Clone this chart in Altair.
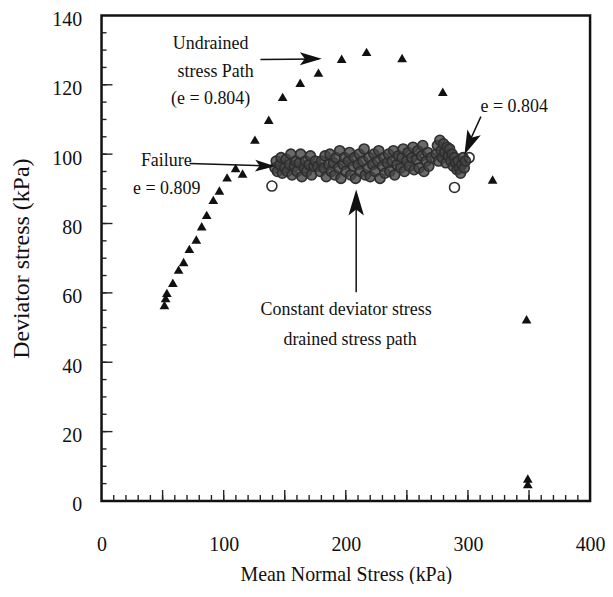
import altair as alt
import pandas as pd

# ---------------- data ----------------
undrained_x = [51.5, 52.5, 53.5, 58.4, 63.1, 67.2, 71.9, 77.6, 82.0, 86.1, 91.5, 96.5,
               102.8, 109.8, 115.5, 125.6, 136.9, 148.3, 162.7, 177.6, 196.6, 217.0,
               246.1, 279.4, 320.2, 348.0, 349.0, 349.0]
undrained_y = [56.5, 58.5, 60.0, 62.9, 66.7, 68.9, 72.7, 75.4, 79.2, 82.5, 86.8, 89.5,
               93.3, 96.0, 94.4, 104.2, 109.9, 116.5, 120.6, 123.5, 127.5, 129.5,
               127.7, 118.0, 92.7, 52.4, 6.5, 4.9]

drained_x = [142, 143, 144, 146, 147, 148, 150, 151, 152, 154, 155, 156, 158, 159, 160, 162, 163, 164,
             166, 167, 168, 170, 171, 172, 174, 175,
             177,
             179, 180, 182, 183, 184, 186, 187, 188, 190, 191, 192, 194, 195, 196, 198, 199, 200, 202,
             203, 204, 206, 207, 208, 210, 211, 212, 214, 215, 216, 218, 219, 220, 222, 223, 224, 226,
             227, 228, 230, 231, 232, 234, 235, 236, 238, 239, 240, 242, 243,
             245, 246, 247, 248, 250, 251, 252, 254, 255, 256, 258, 259, 260, 262, 263, 264, 266, 267,
             268, 270,
             274, 275, 276, 277, 278, 279, 280, 281, 282, 283, 284, 285, 286, 287, 288, 289, 290, 291,
             292, 293, 294, 295, 296, 297, 298]
drained_y = [96, 98, 95, 97, 99, 94.5, 96, 98.5, 95, 97, 100, 94, 96.5, 98, 95, 97.5, 100, 93.5,
             96, 98, 95, 97, 99.5, 94, 96.5, 98,
             96.5,
             95, 98, 96, 99.5, 93.5, 97, 100, 95, 97.5, 94, 99, 96, 101, 93, 97, 99, 95, 98,
             100.5, 94, 96.5, 99, 93, 97, 100, 95, 98, 101.5, 94, 96, 99, 93.5, 97, 100, 95, 98,
             101, 93, 96.5, 99, 94.5, 97.5, 100, 95, 98, 101, 94, 97, 99.5,
             96, 99, 101.5, 95, 98, 100.5, 96.5, 99, 102, 95.5, 98.5, 101, 96, 99.5, 102.5, 95, 98, 100.5,
             96.5, 99,
             100, 102.5, 98, 104, 101, 99, 103, 100.5, 97.5, 102, 99.5, 101.5, 98, 100, 96.5, 99, 97.5, 95.5,
             98, 96, 94.5, 97, 99, 96, 98]

open_x = [139.5, 289.0, 301.0]
open_y = [90.8, 90.4, 99.0]

ann_text = ["Undrained", "stress Path", "(e = 0.804)", "Failure", "e = 0.809",
            "e = 0.804", "Constant deviator stress", "drained stress path"]
ann_x = [89.3, 93.4, 89.3, 53.0, 53.4, 337.9, 200.3, 203.5]
ann_y = [131.8, 123.7, 116.0, 97.9, 90.0, 113.7, 55.0, 46.4]

shaft_x = [130.1, 72.0, 208.5, 310.6]
shaft_y = [127.3, 97.3, 60.2, 110.8]
shaft_x2 = [178.0, 138.0, 208.5, 298.5]
shaft_y2 = [127.4, 96.6, 86.0, 101.5]
head_x = [180.3, 142.0, 208.5, 297.1]
head_y = [127.5, 96.5, 89.8, 99.8]
head_angle = [90, 91.9, 0, 203.4]

x_ticks = [0, 100, 200, 300, 400]
y_ticks = [0, 20, 40, 60, 80, 100, 120, 140]

# ---------------- styles ----------------
FONT = "Liberation Serif"
INK = "#111111"
head_size = [484, 400, 676, 600]
HEAD_PATH = "M0,0L0.6,2L0,1.55L-0.6,2Z"
W, H = 491, 488

xs = alt.Scale(domain=[0, 400], nice=False, zero=False)
ys = alt.Scale(domain=[0, 140], nice=False, zero=False)

band = pd.DataFrame({"x": drained_x, "y": drained_y})
opn = pd.DataFrame({"x": open_x, "y": open_y})
und = pd.DataFrame({"x": undrained_x, "y": undrained_y})
ann = pd.DataFrame({"t": ann_text, "x": ann_x, "y": ann_y})
shafts = pd.DataFrame({"x": shaft_x, "y": shaft_y, "x2": shaft_x2, "y2": shaft_y2})
heads = pd.DataFrame({"x": head_x, "y": head_y, "a": head_angle, "s": head_size})

x_minor = pd.DataFrame({"x": list(range(10, 400, 10))})
x_major = pd.DataFrame({"x": list(range(50, 400, 50))})
y_minor = pd.DataFrame({"y": list(range(5, 140, 5))})
y_major = pd.DataFrame({"y": list(range(20, 140, 20))})

X_AX = alt.Axis(values=x_ticks, title="Mean Normal Stress (kPa)", ticks=False, domain=False,
                grid=False, labelPadding=34, labelFontSize=20, labelFont=FONT, labelColor=INK,
                labelFlush=False, labelOverlap=False, titleFont=FONT, titleFontSize=20,
                titleFontWeight="normal", titleColor=INK, titlePadding=10)
Y_AX = alt.Axis(values=y_ticks, title="Deviator stress (kPa)", ticks=False, domain=False,
                grid=False, labelPadding=20, labelOffset=4, labelFontSize=20, labelFont=FONT,
                labelColor=INK, labelFlush=False, labelOverlap=False, titleFont=FONT,
                titleFontSize=24, titleFontWeight="normal", titleColor=INK, titlePadding=18)


def xq():
    return alt.X("x:Q", scale=xs, axis=X_AX)


def yq():
    return alt.Y("y:Q", scale=ys, axis=Y_AX)


band_layer = alt.Chart(band).mark_point(shape="circle", size=100, filled=False, stroke="#2e2e2e",
                                        strokeWidth=1.6, fill="#454545", fillOpacity=0.8,
                                        opacity=1).encode(x=xq(), y=yq())
open_layer = alt.Chart(opn).mark_point(shape="circle", size=100, filled=False, stroke="#2e2e2e",
                                       strokeWidth=1.6, opacity=1).encode(x=xq(), y=yq())
und_layer = alt.Chart(und).mark_point(shape="triangle-up", size=95, filled=True, color="#111",
                                      opacity=1).encode(x=xq(), y=yq())
shaft_layer = alt.Chart(shafts).mark_rule(color=INK, strokeWidth=1.5).encode(
    x=xq(), y=yq(), x2="x2:Q", y2="y2:Q")
head_layer = alt.Chart(heads).mark_point(shape=HEAD_PATH, filled=True, color=INK, opacity=1).encode(
    x=xq(), y=yq(), angle=alt.Angle("a:Q", scale=None), size=alt.Size("s:Q", scale=None, legend=None))
text_layer = alt.Chart(ann).mark_text(font=FONT, fontSize=18, color=INK, align="center",
                                      baseline="middle").encode(x=xq(), y=yq(), text="t:N")

tick_style = dict(color="#222", strokeWidth=1.4)
xmin_layer = alt.Chart(x_minor).mark_rule(**tick_style).encode(
    x=xq(), y=alt.value(H), y2=alt.value(H - 6))
xmaj_layer = alt.Chart(x_major).mark_rule(**tick_style).encode(
    x=xq(), y=alt.value(H), y2=alt.value(H - 11))
ymin_layer = alt.Chart(y_minor).mark_rule(**tick_style).encode(
    y=yq(), x=alt.value(0), x2=alt.value(5))
ymaj_layer = alt.Chart(y_major).mark_rule(**tick_style).encode(
    y=yq(), x=alt.value(0), x2=alt.value(11))

chart = alt.layer(
    band_layer, open_layer, und_layer, shaft_layer, head_layer, text_layer,
    xmin_layer, xmaj_layer, ymin_layer, ymaj_layer
).properties(
    width=W, height=H,
    padding={"left": 94, "top": 6, "right": 15, "bottom": 82},
    autosize=alt.AutoSizeParams(type="none"),
    background="white",
).configure_view(stroke="#111", strokeWidth=2.5)

chart.save("out.html", embed_options={"renderer": "svg", "actions": False})
